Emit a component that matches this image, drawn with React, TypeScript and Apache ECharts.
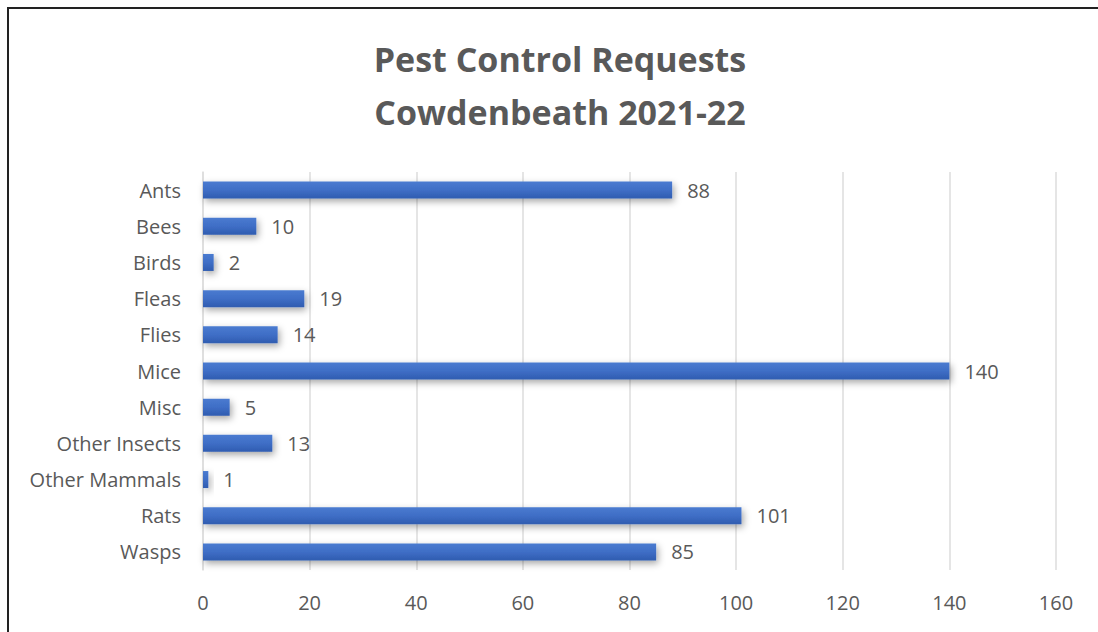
import React, { useEffect, useRef } from "react";
import * as echarts from "echarts";

const categories = [
  "Ants",
  "Bees",
  "Birds",
  "Fleas",
  "Flies",
  "Mice",
  "Misc",
  "Other Insects",
  "Other Mammals",
  "Rats",
  "Wasps",
];
const requests = [88, 10, 2, 19, 14, 140, 5, 13, 1, 101, 85];
const xTicks = { min: 0, max: 160, interval: 20 };

const FONT = "'Open Sans', sans-serif";
const GREY = "#595959";

export default function App() {
  const ref = useRef<HTMLDivElement>(null);

  useEffect(() => {
    if (!ref.current) return;
    const chart = echarts.init(ref.current, undefined, { renderer: "svg" });
    chart.setOption({
      animation: false,
      backgroundColor: "#ffffff",
      title: {
        text: "Pest Control Requests\nCowdenbeath 2021-22",
        left: 555,
        top: 27,
        textAlign: "center",
        textStyle: {
          fontFamily: FONT,
          fontWeight: "bold",
          fontSize: 34,
          color: GREY,
          lineHeight: 53,
        },
      },
      graphic: [
        {
          type: "rect",
          shape: { x: 8, y: 8, width: 1200, height: 700 },
          style: { fill: "none", stroke: "#222", lineWidth: 2 },
          silent: true,
        },
      ],
      grid: { left: 203, right: 42, top: 172, bottom: 62 },
      xAxis: {
        type: "value",
        min: xTicks.min,
        max: xTicks.max,
        interval: xTicks.interval,
        axisLine: { show: false },
        axisTick: { show: false },
        splitLine: { lineStyle: { color: "#dcdcdc", width: 1.5 } },
        axisLabel: {
          margin: 22,
          fontFamily: FONT,
          fontSize: 20,
          color: GREY,
        },
      },
      yAxis: {
        type: "category",
        data: categories,
        inverse: true,
        axisLine: { show: true, lineStyle: { color: "#dcdcdc", width: 1.5 } },
        axisTick: { show: false },
        axisLabel: {
          margin: 22,
          fontFamily: FONT,
          fontSize: 20,
          color: GREY,
        },
      },
      series: [
        {
          type: "bar",
          data: requests,
          barWidth: 17,
          itemStyle: {
            color: new echarts.graphic.LinearGradient(0, 0, 0, 1, [
              { offset: 0, color: "#4a7bd0" },
              { offset: 0.5, color: "#3f6ec6" },
              { offset: 1, color: "#2f5cb0" },
            ]),
            shadowColor: "rgba(0,0,0,0.35)",
            shadowBlur: 7,
            shadowOffsetX: 2,
            shadowOffsetY: 3,
          },
          label: {
            show: true,
            position: "right",
            distance: 15,
            fontFamily: FONT,
            fontSize: 20,
            color: GREY,
          },
        },
      ],
    });
    return () => chart.dispose();
  }, []);

  return (
    <div
      ref={ref}
      style={{ position: "fixed", left: 0, top: 0, width: 1098, height: 632 }}
    />
  );
}
